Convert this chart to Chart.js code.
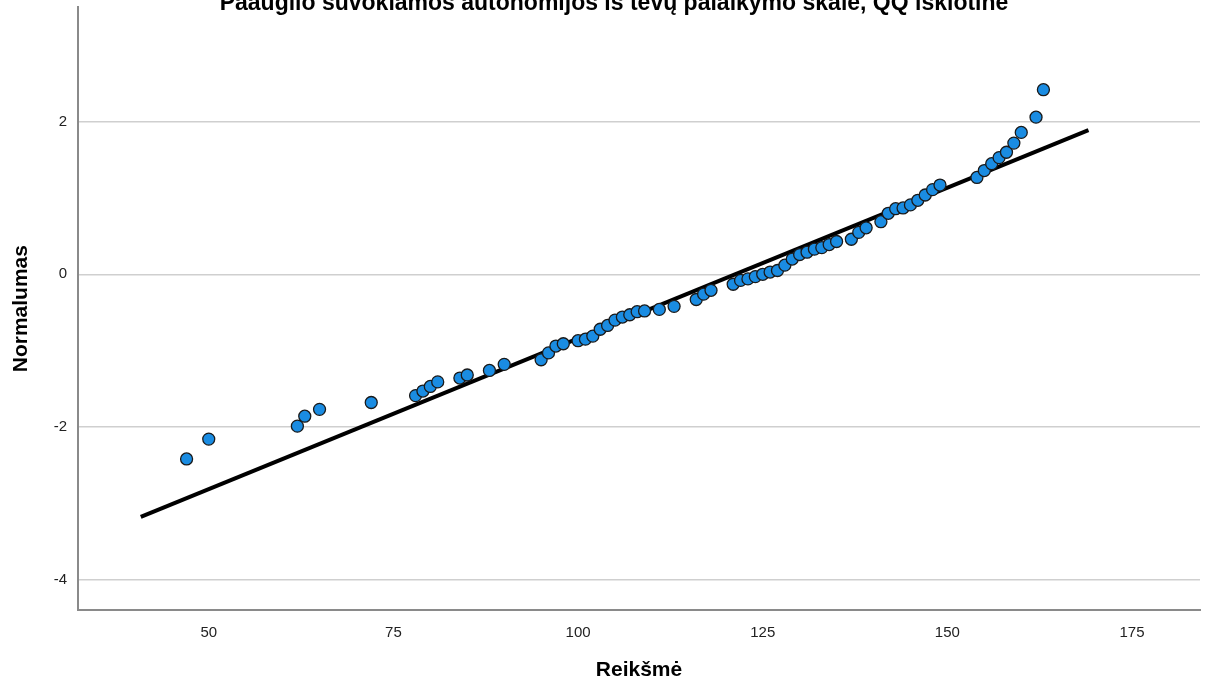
<!DOCTYPE html>
<html>
<head>
<meta charset="utf-8">
<script src="https://cdn.jsdelivr.net/npm/chart.js@4/dist/chart.umd.min.js"></script>
<style>
  html, body { margin: 0; padding: 0; background: #fff; overflow: hidden; }
  #wrap { position: absolute; left: 0; top: 0; width: 1215px; height: 684px; }
</style>
</head>
<body>
<div id="wrap"><canvas id="qq" width="1215" height="684"></canvas></div>
<script>
// Observed scale values (Reikšmė) and their expected normal scores (Normalumas)
const observedValues = [47, 50, 62, 63, 65, 72, 78, 79, 80, 81, 84, 85, 88, 90, 95, 96, 97, 98,
  100, 101, 102, 103, 104, 105, 106, 107, 108, 109, 111, 113, 116, 117, 118, 121,
  122, 123, 124, 125, 126, 127, 128, 129, 130, 131, 132, 133, 134, 135, 137, 138, 139,
  141, 142, 143, 144, 145, 146, 147, 148, 149, 154, 155, 156, 157, 158, 159, 160, 162, 163];
const expectedNormal = [-2.42, -2.16, -1.99, -1.86, -1.77, -1.68, -1.59, -1.53, -1.47, -1.41, -1.36, -1.32, -1.26, -1.18,
  -1.12, -1.03, -0.94, -0.91, -0.87, -0.85, -0.81, -0.72, -0.67, -0.60, -0.56, -0.53, -0.49, -0.48,
  -0.46, -0.42, -0.33, -0.26, -0.21, -0.13, -0.08, -0.06, -0.03, 0.00, 0.03, 0.05, 0.12, 0.20,
  0.26, 0.29, 0.33, 0.35, 0.39, 0.43, 0.46, 0.55, 0.61, 0.69, 0.80, 0.86, 0.87, 0.91, 0.97,
  1.04, 1.11, 1.17, 1.27, 1.36, 1.45, 1.53, 1.60, 1.72, 1.86, 2.06, 2.42];

// Reference line end points
const lineX = [40.8, 169.1];
const lineY = [-3.18, 1.89];

// Tick labels
const xTicks = [50, 75, 100, 125, 150, 175];
const yTicks = [-4, -2, 0, 2];

const chartTitle = 'Paauglio suvokiamos autonomijos iš tėvų palaikymo skalė, QQ išklotinė';
const xTitle = 'Reikšmė';
const yTitle = 'Normalumas';

const points = observedValues.map((v, i) => ({ x: v, y: expectedNormal[i] }));
const linePts = lineX.map((v, i) => ({ x: v, y: lineY[i] }));

const FONT = "'Liberation Sans', Arial, sans-serif";

// Title drawn near the top edge of the canvas
const topTitle = {
  id: 'topTitle',
  afterDraw(chart) {
    const ctx = chart.ctx;
    ctx.save();
    ctx.font = 'bold 23px ' + FONT;
    ctx.fillStyle = '#000';
    ctx.textAlign = 'center';
    ctx.textBaseline = 'alphabetic';
    ctx.fillText(chartTitle, 614, 10);
    ctx.restore();
  }
};

new Chart(document.getElementById('qq'), {
  type: 'scatter',
  data: {
    datasets: [
      {
        data: points,
        backgroundColor: '#1a8ce2',
        borderColor: '#1a1a1a',
        borderWidth: 1.3,
        pointRadius: 6,
        pointHoverRadius: 6
      },
      {
        type: 'line',
        data: linePts,
        borderColor: '#000',
        borderWidth: 4,
        pointRadius: 0,
        fill: false,
        tension: 0
      }
    ]
  },
  options: {
    responsive: false,
    animation: false,
    events: [],
    layout: { padding: { top: 6, right: 15, left: 0, bottom: 0 } },
    plugins: { legend: { display: false }, tooltip: { enabled: false }, title: { display: false } },
    scales: {
      x: {
        type: 'linear',
        min: 32.3,
        max: 184.2,
        afterBuildTicks(scale) { scale.ticks = xTicks.map(v => ({ value: v })); },
        afterFit(scale) { scale.height = 74; scale.paddingLeft = 0; scale.paddingRight = 0; },
        grid: { display: false, drawTicks: false },
        border: { display: true, color: '#8a8a8a', width: 2 },
        ticks: { padding: 14, color: '#222', font: { family: FONT, size: 15 } },
        title: { display: true, text: xTitle, color: '#000', font: { family: FONT, size: 21, weight: 'bold' }, padding: { top: 0, bottom: 1 } }
      },
      y: {
        type: 'linear',
        min: -4.4,
        max: 3.5,
        afterBuildTicks(scale) { scale.ticks = yTicks.map(v => ({ value: v })); },
        afterFit(scale) { scale.width = 78; scale.paddingTop = 0; scale.paddingBottom = 0; },
        grid: { display: true, drawTicks: false, color: '#cfcfcf', lineWidth: 1.5 },
        border: { display: true, color: '#8a8a8a', width: 2 },
        ticks: { padding: 11, color: '#222', font: { family: FONT, size: 15 } },
        title: { display: true, text: yTitle, color: '#000', font: { family: FONT, size: 21, weight: 'bold' }, padding: { top: 9, bottom: 0 } }
      }
    }
  },
  plugins: [topTitle]
});
</script>
</body>
</html>
